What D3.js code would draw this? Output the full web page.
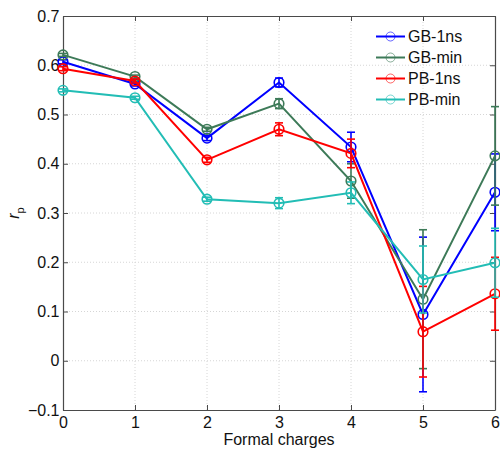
<!DOCTYPE html>
<html>
<head>
<meta charset="utf-8">
<script src="https://cdn.jsdelivr.net/npm/d3@7"></script>
<style>
  html, body { margin: 0; padding: 0; background: #fff; }
  svg { display: block; font-family: "Liberation Sans", Arial, sans-serif; }
</style>
</head>
<body>
<svg id="chart" width="500" height="450"></svg>
<script>
// Correlation r_p versus formal charge for four solvation models
const charges = [0, 1, 2, 3, 4, 5, 6];
const seriesNames = ["GB-1ns", "GB-min", "PB-1ns", "PB-min"];
const seriesColors = ["#0000ff", "#3d7a58", "#ff0000", "#22bdb5"];

const gb1ns = [0.607, 0.562, 0.452, 0.565, 0.434, 0.094, 0.342];
const gbmin = [0.621, 0.577, 0.470, 0.522, 0.365, 0.125, 0.416];
const pb1ns = [0.593, 0.568, 0.408, 0.470, 0.421, 0.059, 0.136];
const pbmin = [0.549, 0.534, 0.328, 0.320, 0.341, 0.165, 0.199];

const gb1nsErr = [0.004, 0.004, 0.005, 0.009, 0.030, 0.157, 0.078];
const gbminErr = [0.003, 0.003, 0.004, 0.010, 0.035, 0.141, 0.100];
const pb1nsErr = [0.004, 0.004, 0.005, 0.013, 0.029, 0.092, 0.074];
const pbminErr = [0.003, 0.003, 0.004, 0.011, 0.022, 0.068, 0.070];

const yTicks = [-0.1, 0, 0.1, 0.2, 0.3, 0.4, 0.5, 0.6, 0.7];
const xTicks = charges;

const seriesValues = [gb1ns, gbmin, pb1ns, pbmin];
const seriesErrors = [gb1nsErr, gbminErr, pb1nsErr, pbminErr];

const plotLeft = 63, plotRight = 495, plotTop = 16, plotBottom = 410;
const svg = d3.select("#chart");

const x = d3.scaleLinear().domain([0, 6]).range([plotLeft, plotRight]);
const y = d3.scaleLinear().domain([-0.1, 0.7]).range([plotBottom, plotTop]);

const axisColor = "#4a4a4a";
const fontSize = "16px";

// dotted grid
const grid = svg.append("g");
grid.selectAll("line.gy").data(yTicks.slice(1, -1)).join("line")
  .attr("x1", plotLeft).attr("x2", plotRight)
  .attr("y1", d => y(d)).attr("y2", d => y(d))
  .attr("stroke", "#d6d6d6").attr("stroke-width", 1)
  .attr("stroke-dasharray", "1,2");
grid.selectAll("line.gx").data(xTicks.slice(1, -1)).join("line")
  .attr("y1", plotTop).attr("y2", plotBottom)
  .attr("x1", d => x(d)).attr("x2", d => x(d))
  .attr("stroke", "#d6d6d6").attr("stroke-width", 1)
  .attr("stroke-dasharray", "1,2");

// axes with inward ticks
const axisLeft = d3.axisLeft(y).tickValues(yTicks).tickSizeInner(-5).tickSizeOuter(0)
  .tickPadding(3.5).tickFormat(d3.format(".1~f"));
const axisBottom = d3.axisBottom(x).tickValues(xTicks).tickSizeInner(-5).tickSizeOuter(0)
  .tickPadding(6.5).tickFormat(d3.format("d"));
const axisRight = d3.axisRight(y).tickValues(yTicks).tickSizeInner(-5).tickSizeOuter(0).tickFormat("");
const axisTop = d3.axisTop(x).tickValues(xTicks).tickSizeInner(-5).tickSizeOuter(0).tickFormat("");

function styleAxis(g) {
  g.selectAll("path.domain").attr("stroke", axisColor).attr("stroke-width", 1.2);
  g.selectAll(".tick line").attr("stroke", axisColor).attr("stroke-width", 1);
  g.selectAll(".tick text").attr("fill", "#111").style("font-size", fontSize)
    .style("font-family", "'Liberation Sans', Arial, sans-serif");
}

svg.append("g").attr("transform", `translate(0,${plotTop})`).call(axisTop).call(styleAxis);
svg.append("g").attr("transform", `translate(${plotRight},0)`).call(axisRight).call(styleAxis);
svg.append("g").attr("transform", `translate(${plotLeft},0)`).call(axisLeft).call(styleAxis);
svg.append("g").attr("transform", `translate(0,${plotBottom})`).call(axisBottom).call(styleAxis);

// axis titles
svg.append("text")
  .attr("x", (plotLeft + plotRight) / 2).attr("y", 445)
  .attr("text-anchor", "middle").attr("fill", "#111")
  .style("font-size", fontSize)
  .text("Formal charges");

const yTitle = svg.append("text")
  .attr("transform", `translate(19,${(plotTop + plotBottom) / 2}) rotate(-90)`)
  .attr("text-anchor", "middle").attr("fill", "#111")
  .style("font-size", fontSize);
yTitle.append("tspan").style("font-style", "italic").text("r");
yTitle.append("tspan").attr("dy", 5).style("font-size", "11px").text("p");

// series: error bars, lines, circle markers
const line = d3.line().x((d, i) => x(charges[i])).y(d => y(d));
const capHalf = 4;

seriesValues.forEach((vals, s) => {
  const color = seriesColors[s];
  const errs = seriesErrors[s];
  const g = svg.append("g");

  const eb = g.selectAll("g.eb").data(vals).join("g");
  eb.append("line")
    .attr("x1", (d, i) => x(charges[i])).attr("x2", (d, i) => x(charges[i]))
    .attr("y1", (d, i) => y(d - errs[i])).attr("y2", (d, i) => y(d + errs[i]))
    .attr("stroke", color).attr("stroke-width", 1.6);
  [-1, 1].forEach(sign => {
    eb.append("line")
      .attr("x1", (d, i) => x(charges[i]) - capHalf).attr("x2", (d, i) => x(charges[i]) + capHalf)
      .attr("y1", (d, i) => y(d + sign * errs[i])).attr("y2", (d, i) => y(d + sign * errs[i]))
      .attr("stroke", color).attr("stroke-width", 1.6);
  });

  g.append("path").datum(vals)
    .attr("d", line).attr("fill", "none")
    .attr("stroke", color).attr("stroke-width", 2);

  g.selectAll("circle").data(vals).join("circle")
    .attr("cx", (d, i) => x(charges[i])).attr("cy", d => y(d))
    .attr("r", 4.8).attr("fill", "none")
    .attr("stroke", color).attr("stroke-width", 1.6);
});

// legend
const legend = svg.append("g");
seriesNames.forEach((name, s) => {
  const ly = 36.5 + s * 21;
  legend.append("line")
    .attr("x1", 376).attr("x2", 405).attr("y1", ly).attr("y2", ly)
    .attr("stroke", seriesColors[s]).attr("stroke-width", 2);
  legend.append("circle")
    .attr("cx", 390.5).attr("cy", ly).attr("r", 4.5)
    .attr("fill", "none").attr("stroke", seriesColors[s]).attr("stroke-width", 1)
    .attr("stroke-opacity", 0.6);
  legend.append("text")
    .attr("x", 408).attr("y", ly + 5.5)
    .attr("fill", "#111").style("font-size", fontSize)
    .text(name);
});
</script>
</body>
</html>
